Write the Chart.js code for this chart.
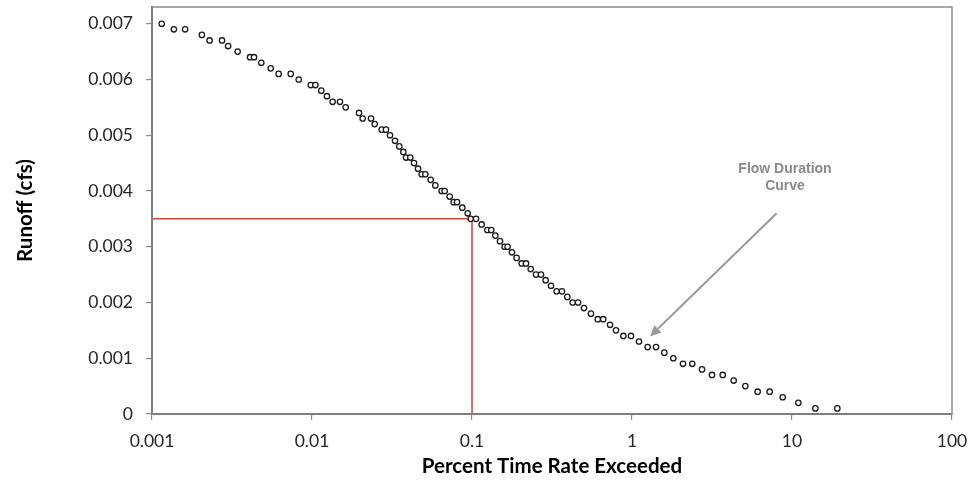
<!DOCTYPE html>
<html>
<head>
<meta charset="utf-8">
<script src="https://cdn.jsdelivr.net/npm/chart.js@4/dist/chart.umd.min.js"></script>
<style>
  html, body { margin: 0; padding: 0; background: #ffffff; }
  #wrap { width: 969px; height: 483px; position: relative; }
</style>
</head>
<body>
<div id="wrap"><canvas id="c" width="969" height="483"></canvas></div>
<script>
// ---- Data ----
const percentExceeded = [
  0.00115, 0.00137, 0.00161, 0.00205, 0.00229, 0.00274, 0.00299, 0.00343, 0.0041, 0.00434,
  0.00482, 0.00552, 0.00619, 0.00736, 0.00826, 0.00982, 0.0105, 0.01143, 0.0124, 0.01346,
  0.01496, 0.01624, 0.01967, 0.02074, 0.02338, 0.02465, 0.02728, 0.029, 0.03073, 0.03302,
  0.03513, 0.03722, 0.03869, 0.04115, 0.04341, 0.046, 0.04846, 0.05109, 0.05518, 0.05896,
  0.06457, 0.06748, 0.0725, 0.0769, 0.0806, 0.087, 0.094, 0.0982, 0.106, 0.1149,
  0.1247, 0.1319, 0.1399, 0.1496, 0.16, 0.167, 0.1778, 0.19, 0.2045, 0.2175,
  0.2328, 0.2512, 0.27, 0.2886, 0.3118, 0.338, 0.365, 0.394, 0.426, 0.46,
  0.501, 0.554, 0.611, 0.661, 0.729, 0.794, 0.883, 0.986, 1.106, 1.253,
  1.413, 1.592, 1.812, 2.083, 2.38, 2.738, 3.162, 3.69, 4.32, 5.11,
  6.1, 7.25, 8.75, 10.96, 14.0, 19.2
];
const runoff = [
  0.0070, 0.0069, 0.0069, 0.0068, 0.0067, 0.0067, 0.0066, 0.0065, 0.0064, 0.0064,
  0.0063, 0.0062, 0.0061, 0.0061, 0.0060, 0.0059, 0.0059, 0.0058, 0.0057, 0.0056,
  0.0056, 0.0055, 0.0054, 0.0053, 0.0053, 0.0052, 0.0051, 0.0051, 0.0050, 0.0049,
  0.0048, 0.0047, 0.0046, 0.0046, 0.0045, 0.0044, 0.0043, 0.0043, 0.0042, 0.0041,
  0.0040, 0.0040, 0.0039, 0.0038, 0.0038, 0.0037, 0.0036, 0.0035, 0.0035, 0.0034,
  0.0033, 0.0033, 0.0032, 0.0031, 0.0030, 0.0030, 0.0029, 0.0028, 0.0027, 0.0027,
  0.0026, 0.0025, 0.0025, 0.0024, 0.0023, 0.0022, 0.0022, 0.0021, 0.0020, 0.0020,
  0.0019, 0.0018, 0.0017, 0.0017, 0.0016, 0.0015, 0.0014, 0.0014, 0.0013, 0.0012,
  0.0012, 0.0011, 0.0010, 0.0009, 0.0009, 0.0008, 0.0007, 0.0007, 0.0006, 0.0005,
  0.0004, 0.0004, 0.0003, 0.0002, 0.0001, 0.0001
];
// Red reference lines (x = 0.1 % exceedance, y = 0.0035 cfs)
const refLineX = [0.001, 0.1, 0.1];
const refLineY = [0.0035, 0.0035, 0];

const xTicks = [0.001, 0.01, 0.1, 1, 10, 100];
const xTickLabels = ['0.001', '0.01', '0.1', '1', '10', '100'];
const yTicks = [0, 0.001, 0.002, 0.003, 0.004, 0.005, 0.006, 0.007];
const yTickLabels = ['0', '0.001', '0.002', '0.003', '0.004', '0.005', '0.006', '0.007'];

const xTitle = 'Percent Time Rate Exceeded';
const yTitle = 'Runoff (cfs)';
const noteLines = ['Flow Duration', 'Curve'];
const noteAnchor = { x: 9.04, y: 0.0044 };         // text position (data coords)
const arrowFrom = { x: 8.02, y: 0.00360 };
const arrowTo   = { x: 1.296, y: 0.00139 };

// ---- Chart ----
const FONT = "Lato, 'Open Sans', sans-serif";

const annotationPlugin = {
  id: 'extras',
  afterDatasetsDraw(chart) {
    const { ctx, chartArea: a, scales: { x, y } } = chart;
    ctx.save();
    // plot frame (top/right)
    ctx.strokeStyle = '#8c8c8c';
    ctx.lineWidth = 1.5;
    ctx.strokeRect(a.left, a.top, a.right - a.left, a.bottom - a.top);
    // annotation text
    ctx.fillStyle = '#8a8a8a';
    ctx.font = "bold 14px 'Liberation Sans', Arial, sans-serif";
    ctx.textAlign = 'center';
    ctx.textBaseline = 'middle';
    const tx = x.getPixelForValue(noteAnchor.x);
    const ty = y.getPixelForValue(noteAnchor.y);
    noteLines.forEach((t, i) => ctx.fillText(t, tx, ty + i * 17.5));
    // arrow
    const x1 = x.getPixelForValue(arrowFrom.x), y1 = y.getPixelForValue(arrowFrom.y);
    const x2 = x.getPixelForValue(arrowTo.x),   y2 = y.getPixelForValue(arrowTo.y);
    const ang = Math.atan2(y2 - y1, x2 - x1);
    const head = 11, hw = 5;
    const bx = x2 - head * Math.cos(ang), by = y2 - head * Math.sin(ang);
    ctx.strokeStyle = '#9a9a9a';
    ctx.fillStyle = '#9a9a9a';
    ctx.lineWidth = 2;
    ctx.beginPath();
    ctx.moveTo(x1, y1);
    ctx.lineTo(bx, by);
    ctx.stroke();
    ctx.beginPath();
    ctx.moveTo(x2, y2);
    ctx.lineTo(bx + hw * Math.sin(ang), by - hw * Math.cos(ang));
    ctx.lineTo(bx - hw * Math.sin(ang), by + hw * Math.cos(ang));
    ctx.closePath();
    ctx.fill();
    ctx.restore();
  }
};

new Chart(document.getElementById('c'), {
  type: 'scatter',
  data: {
    datasets: [
      {
        label: 'Flow Duration Curve',
        data: percentExceeded.map((v, i) => ({ x: v, y: runoff[i] })),
        pointRadius: 2.7,
        pointBorderWidth: 1.3,
        pointBorderColor: '#1a1a1a',
        pointBackgroundColor: '#ffffff',
        showLine: false,
        order: 1
      },
      {
        label: 'Reference',
        data: refLineX.map((v, i) => ({ x: v, y: refLineY[i] })),
        showLine: true,
        borderColor: '#c8443c',
        borderWidth: 1.5,
        pointRadius: 0,
        fill: false,
        order: 2
      }
    ]
  },
  options: {
    responsive: false,
    animation: false,
    layout: { padding: { left: 0, right: 17, top: 7, bottom: 0 } },
    plugins: { legend: { display: false }, tooltip: { enabled: false } },
    scales: {
      x: {
        type: 'logarithmic',
        min: 0.001,
        max: 100,
        afterBuildTicks: (s) => { s.ticks = xTicks.map(v => ({ value: v })); },
        afterFit: (s) => { s.height = 69; s.paddingLeft = 0; s.paddingRight = 0; },
        ticks: {
          callback: (v, i) => xTickLabels[i],
          font: { family: FONT, size: 17.5 },
          color: '#262626',
          padding: 11,
          maxRotation: 0,
          autoSkip: false
        },
        grid: { drawOnChartArea: false, tickLength: 6, color: '#8c8c8c', lineWidth: 1.2 },
        border: { color: '#555555', width: 2 },
        title: {
          display: true,
          text: xTitle,
          font: { family: FONT, size: 20.5, weight: 'bold' },
          color: '#000000',
          padding: { top: 0, bottom: 4 }
        }
      },
      y: {
        type: 'linear',
        min: 0,
        max: 0.0073,
        afterBuildTicks: (s) => { s.ticks = yTicks.map(v => ({ value: v })); },
        afterFit: (s) => { s.width = 152; s.paddingTop = 0; s.paddingBottom = 0; },
        ticks: {
          callback: (v, i) => yTickLabels[i],
          font: { family: FONT, size: 17.5 },
          color: '#262626',
          padding: 13
        },
        grid: { drawOnChartArea: false, tickLength: 6, color: '#8c8c8c', lineWidth: 1.2 },
        border: { color: '#555555', width: 2 },
        title: {
          display: true,
          text: yTitle,
          font: { family: FONT, size: 20.5, weight: 'bold' },
          color: '#000000',
          padding: { top: 13, bottom: 0 }
        }
      }
    }
  },
  plugins: [annotationPlugin]
});
</script>
</body>
</html>
